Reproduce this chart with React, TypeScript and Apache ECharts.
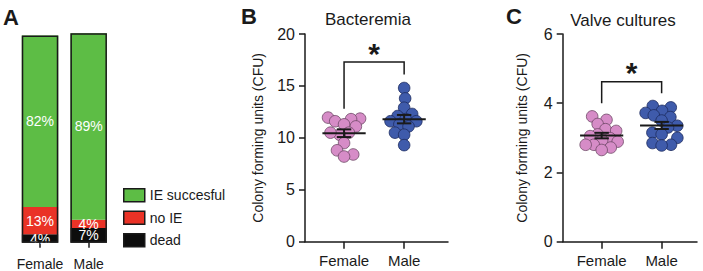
import React, { useEffect, useRef } from 'react';
import * as echarts from 'echarts';

// Shared groups
const groups = ['Female', 'Male'];

// Panel A: outcome of infection (%)
const outcomeNames = ['IE succesful', 'no IE', 'dead'];
const ieSuccessful = [82, 89];
const noIE = [13, 4];
const dead = [4, 7];

// Panel B: bacteremia CFU per animal
const bactFemale = [11.95, 11.85, 11.8, 11.6, 11.3, 11.1, 10.5, 10.3, 10.5, 9.5, 8.8, 8.4, 8.2];
const bactMale = [14.8, 13.8, 12.9, 12.3, 12.1, 11.8, 11.6, 11.6, 11.3, 11.1, 10.5, 10.3, 9.3];
const bactTicks = [0, 5, 10, 15, 20];

// Panel C: valve culture CFU per animal
const valveFemale = [3.62, 3.52, 3.4, 3.25, 3.2, 3.1, 3.05, 2.99, 2.93, 2.89, 2.8, 2.8, 2.72, 2.65];
const valveMale = [3.92, 3.88, 3.78, 3.72, 3.65, 3.6, 3.5, 3.35, 3.3, 3.15, 3.1, 3.0, 2.85, 2.8, 2.78];
const valveTicks = [0, 2, 4, 6];

// Significance brackets: [female leg end, bracket top, male leg end]
const bactBracket = [12.8, 17.3, 16.1];
const valveBracket = [4.0, 4.62, 4.29];

const FONT = '"Liberation Sans", Arial, Helvetica, sans-serif';
const INK = '#1a1a1a';
const PINK = '#D68CC7';
const PINK_EDGE = '#6d4766';
const BLUE = '#3F5BAB';
const BLUE_EDGE = '#1d2b5e';

function mean(a: number[]) {
  return a.reduce((s, v) => s + v, 0) / a.length;
}
function sem(a: number[]) {
  const m = mean(a);
  const sd = Math.sqrt(a.reduce((s, v) => s + (v - m) * (v - m), 0) / (a.length - 1));
  return sd / Math.sqrt(a.length);
}

// Beeswarm offsets (pixels) for points at pixel heights ys, kept within ±cap
function swarm(ys: number[], d: number, cap: number): number[] {
  const order = ys.map((_, i) => i).sort((a, b) => ys[b] - ys[a]);
  const xs = new Array(ys.length).fill(0);
  const placed: number[] = [];
  let flip = 1;
  for (const i of order) {
    const cands = [0];
    const blocks: [number, number][] = [];
    for (const j of placed) {
      const dy = ys[i] - ys[j];
      if (Math.abs(dy) < d) {
        const w = Math.sqrt(d * d - dy * dy);
        blocks.push([xs[j] - w, xs[j] + w]);
        cands.push(xs[j] - w, xs[j] + w);
      }
    }
    cands.sort((a, b) => Math.abs(a) - Math.abs(b) || (a - b) * flip);
    let best = NaN;
    for (const c of cands) {
      if (Math.abs(c) > cap) break;
      if (blocks.every(([lo, hi]) => c <= lo + 1e-6 || c >= hi - 1e-6)) {
        best = c;
        break;
      }
    }
    if (isNaN(best)) {
      // no free slot inside the band: take the least crowded spot
      let bestGap = -1;
      for (let x = -cap; x <= cap; x += 0.5) {
        let gap = Infinity;
        for (const j of placed) gap = Math.min(gap, Math.hypot(x - xs[j], ys[i] - ys[j]));
        if (gap > bestGap + 1e-6) {
          bestGap = gap;
          best = x;
        }
      }
    }
    flip = -flip;
    xs[i] = best;
    placed.push(i);
  }
  return xs;
}

function pointsSeries(axis: number, g: number, values: number[], fill: string, stroke: string) {
  return {
    type: 'custom',
    xAxisIndex: axis,
    yAxisIndex: axis,
    z: 2,
    data: values.map((v) => [g, v]),
    renderItem: (params: any, api: any) => {
      const cx = api.coord([g, 0])[0];
      const ys = values.map((v) => api.coord([g, v])[1]);
      const xs = swarm(ys, 9.4, 16);
      const i = params.dataIndex;
      return {
        type: 'circle',
        shape: { cx: cx + xs[i], cy: ys[i], r: 5.8 },
        style: { fill, stroke, lineWidth: 0.8 },
      };
    },
  };
}

function meanSemSeries(axis: number, sets: number[][]) {
  return {
    type: 'custom',
    xAxisIndex: axis,
    yAxisIndex: axis,
    z: 5,
    data: sets.map((s, g) => [g, mean(s), mean(s) - sem(s), mean(s) + sem(s)]),
    encode: { x: 0, y: [1, 2, 3] },
    renderItem: (_params: any, api: any) => {
      const x = api.value(0);
      const pm = api.coord([x, api.value(1)]);
      const pl = api.coord([x, api.value(2)]);
      const ph = api.coord([x, api.value(3)]);
      const unit = api.size([1, 0])[0];
      const hm = 0.36 * unit;
      const hc = 0.12 * unit;
      const st = { stroke: INK, lineWidth: 2 };
      return {
        type: 'group',
        children: [
          { type: 'line', shape: { x1: pm[0] - hm, y1: pm[1], x2: pm[0] + hm, y2: pm[1] }, style: st },
          { type: 'line', shape: { x1: pl[0], y1: pl[1], x2: ph[0], y2: ph[1] }, style: st },
          { type: 'line', shape: { x1: pl[0] - hc, y1: pl[1], x2: pl[0] + hc, y2: pl[1] }, style: st },
          { type: 'line', shape: { x1: ph[0] - hc, y1: ph[1], x2: ph[0] + hc, y2: ph[1] }, style: st },
        ],
      };
    },
  };
}

function bracketSeries(axis: number, b: number[]) {
  return {
    type: 'custom',
    xAxisIndex: axis,
    yAxisIndex: axis,
    z: 4,
    data: [[0, b[0], b[1], b[2]]],
    encode: { x: 0, y: [1, 2, 3] },
    renderItem: (_params: any, api: any) => {
      const a = api.coord([0, api.value(1)]);
      const t0 = api.coord([0, api.value(2)]);
      const t1 = api.coord([1, api.value(2)]);
      const c = api.coord([1, api.value(3)]);
      return {
        type: 'group',
        children: [
          {
            type: 'polyline',
            shape: { points: [a, t0, t1, c] },
            style: { stroke: INK, lineWidth: 1.5, fill: 'none' },
          },
          {
            type: 'text',
            x: (t0[0] + t1[0]) / 2,
            y: t0[1] - 9,
            style: {
              text: '*',
              font: `bold 30px ${FONT}`,
              fill: INK,
              align: 'center',
              verticalAlign: 'middle',
            },
          },
        ],
      };
    },
  };
}

function valueXAxis(grid: number, max: number) {
  return {
    type: 'value',
    gridIndex: grid,
    min: -0.65,
    max,
    splitLine: { show: false },
    axisLine: { show: true, onZero: false, lineStyle: { color: INK, width: 1.5 } },
    axisTick: { show: true, customValues: [0, 1], length: 7, lineStyle: { color: INK, width: 1.5 } },
    axisLabel: {
      customValues: [0, 1],
      formatter: (v: number) => groups[Math.round(v)] ?? '',
      margin: 11,
      fontSize: 15,
      color: INK,
      fontFamily: FONT,
    },
  };
}

function valueYAxis(grid: number, ticks: number[], gap: number) {
  return {
    type: 'value',
    gridIndex: grid,
    min: ticks[0],
    max: ticks[ticks.length - 1],
    interval: ticks[1] - ticks[0],
    name: 'Colony forming units (CFU)',
    nameLocation: 'middle',
    nameGap: gap,
    nameTextStyle: { fontSize: 14, color: INK, fontFamily: FONT },
    splitLine: { show: false },
    axisLine: { show: true, onZero: false, lineStyle: { color: INK, width: 1.5 } },
    axisTick: { show: true, length: 6, lineStyle: { color: INK, width: 1.5 } },
    axisLabel: { margin: 10, fontSize: 16, color: INK, fontFamily: FONT },
  };
}

export default function App() {
  const ref = useRef<HTMLDivElement>(null);

  useEffect(() => {
    if (!ref.current) return;
    const chart = echarts.init(ref.current, null, { renderer: 'svg' });
    const totals = groups.map((_, i) => ieSuccessful[i] + noIE[i] + dead[i]);
    const barLabel = {
      show: true,
      position: 'inside',
      formatter: '{c}%',
      color: '#fff',
      fontSize: 14,
      fontFamily: FONT,
    };

    chart.setOption({
      animation: false,
      backgroundColor: '#fff',
      textStyle: { fontFamily: FONT },
      grid: [
        { left: 15.7, top: 33.3, width: 97.3, height: 209.4, outerBoundsMode: 'none' },
        { left: 305, top: 34, width: 143, height: 207.7, outerBoundsMode: 'none' },
        { left: 562.7, top: 34, width: 134.3, height: 207.7, outerBoundsMode: 'none' },
      ],
      xAxis: [
        {
          type: 'category',
          gridIndex: 0,
          data: groups,
          offset: 2,
          axisLine: { show: false },
          axisTick: { show: true, alignWithLabel: true, length: 5, lineStyle: { color: INK, width: 1.5 } },
          axisLabel: { interval: 0, margin: 12, fontSize: 14, color: INK, fontFamily: FONT },
        },
        valueXAxis(1, 1.73),
        valueXAxis(2, 1.59),
      ],
      yAxis: [
        { type: 'value', gridIndex: 0, min: 0, max: 100, show: false },
        valueYAxis(1, bactTicks, 40),
        valueYAxis(2, valveTicks, 34),
      ],
      legend: {
        data: outcomeNames,
        orient: 'vertical',
        left: 123,
        top: 188,
        padding: 0,
        itemWidth: 21,
        itemHeight: 13,
        itemGap: 8,
        icon: 'rect',
        itemStyle: { borderColor: INK, borderWidth: 1.5 },
        textStyle: { fontSize: 14, color: INK, fontFamily: FONT },
        selectedMode: false,
      },
      graphic: [
        { type: 'text', x: 3, y: 17, style: { text: 'A', font: `bold 22px ${FONT}`, fill: INK, verticalAlign: 'middle' } },
        { type: 'text', x: 241, y: 16, style: { text: 'B', font: `bold 22px ${FONT}`, fill: INK, verticalAlign: 'middle' } },
        { type: 'text', x: 506, y: 16, style: { text: 'C', font: `bold 22px ${FONT}`, fill: INK, verticalAlign: 'middle' } },
        { type: 'text', x: 368, y: 19, style: { text: 'Bacteremia', font: `17px ${FONT}`, fill: INK, align: 'center', verticalAlign: 'middle' } },
        { type: 'text', x: 623, y: 20, style: { text: 'Valve cultures', font: `17px ${FONT}`, fill: INK, align: 'center', verticalAlign: 'middle' } },
      ],
      series: [
        {
          type: 'bar', name: 'dead', stack: 'outcome', xAxisIndex: 0, yAxisIndex: 0,
          barWidth: 36.5, data: dead, itemStyle: { color: '#0d0d0d' }, label: barLabel,
        },
        {
          type: 'bar', name: 'no IE', stack: 'outcome', xAxisIndex: 0, yAxisIndex: 0,
          barWidth: 36.5, data: noIE, itemStyle: { color: '#EA3226' }, label: barLabel,
        },
        {
          type: 'bar', name: 'IE succesful', stack: 'outcome', xAxisIndex: 0, yAxisIndex: 0,
          barWidth: 36.5, data: ieSuccessful, itemStyle: { color: '#5DBD45' }, label: barLabel,
        },
        {
          type: 'bar', name: 'outline', xAxisIndex: 0, yAxisIndex: 0, z: 3,
          barWidth: 36.5, barGap: '-100%', data: totals, silent: true,
          itemStyle: { color: 'rgba(0,0,0,0)', borderColor: INK, borderWidth: 1.5 },
        },
        pointsSeries(1, 0, bactFemale, PINK, PINK_EDGE),
        pointsSeries(1, 1, bactMale, BLUE, BLUE_EDGE),
        meanSemSeries(1, [bactFemale, bactMale]),
        bracketSeries(1, bactBracket),
        pointsSeries(2, 0, valveFemale, PINK, PINK_EDGE),
        pointsSeries(2, 1, valveMale, BLUE, BLUE_EDGE),
        meanSemSeries(2, [valveFemale, valveMale]),
        bracketSeries(2, valveBracket),
      ],
    });

    return () => chart.dispose();
  }, []);

  return (
    <div
      ref={ref}
      style={{ position: 'absolute', left: 0, top: 0, width: 703, height: 271, background: '#fff' }}
    />
  );
}
